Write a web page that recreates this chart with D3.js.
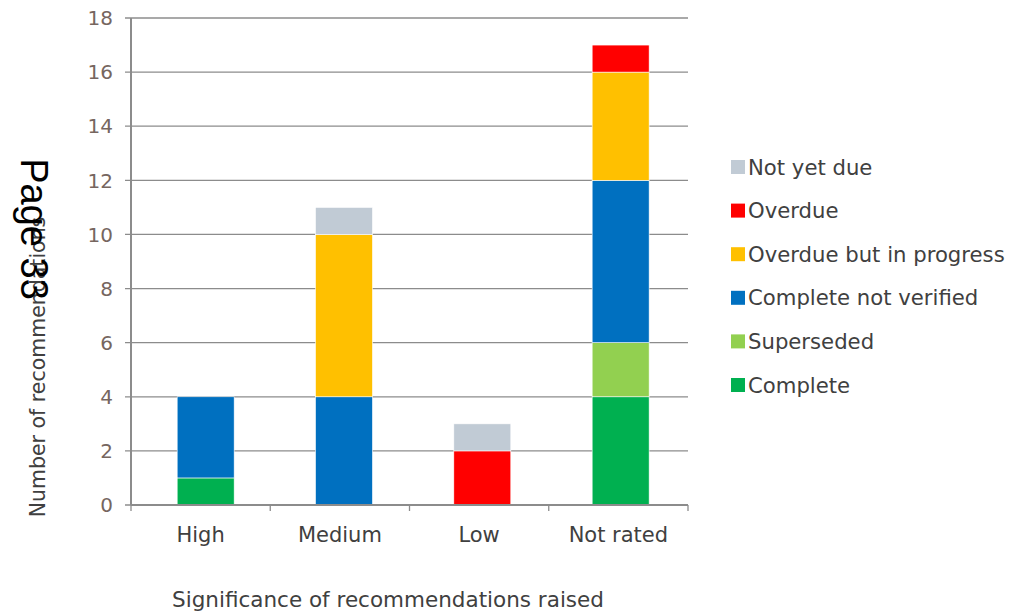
<!DOCTYPE html>
<html>
<head>
<meta charset="utf-8">
<script src="https://cdn.jsdelivr.net/npm/d3@7"></script>
<style>
  body { margin: 0; background: #fff; }
  svg { display: block; }
  text { font-family: "DejaVu Sans", sans-serif; }
</style>
</head>
<body>
<svg id="chart" width="1009" height="613"></svg>
<script>
// Recommendation status by significance rating
const categories = ["High", "Medium", "Low", "Not rated"];
const seriesNames = ["Complete", "Superseded", "Complete not verified", "Overdue but in progress", "Overdue", "Not yet due"];
const seriesColors = ["#00B050", "#92D050", "#0070C0", "#FFC000", "#FF0000", "#C1CBD5"];
const complete            = [1, 0, 0, 4];
const superseded          = [0, 0, 0, 2];
const completeNotVerified = [3, 4, 0, 6];
const overdueInProgress   = [0, 6, 0, 4];
const overdue             = [0, 0, 2, 1];
const notYetDue           = [0, 1, 1, 0];
const yTicks = [0, 2, 4, 6, 8, 10, 12, 14, 16, 18];

const seriesValues = [complete, superseded, completeNotVerified, overdueInProgress, overdue, notYetDue];
const rows = categories.map((c, i) => {
  const r = { category: c };
  seriesNames.forEach((s, k) => { r[s] = seriesValues[k][i]; });
  return r;
});

const svg = d3.select("#chart");
const plotLeft = 131, plotRight = 688, plotTop = 18, plotBottom = 505;

// category slots along the axis (tick marks and labels)
const xAxisScale = d3.scaleBand().domain(categories).range([plotLeft, plotRight]).padding(0);
// bar placement
const x = d3.scaleBand().domain(categories).range([136.5, 689.8]).paddingInner(0.588).paddingOuter(0.294);
const y = d3.scaleLinear().domain([0, 18]).range([plotBottom, plotTop]);

// horizontal gridlines with short left ticks
svg.append("g").selectAll("line").data(yTicks).join("line")
  .attr("x1", plotLeft - 6).attr("x2", plotRight)
  .attr("y1", d => y(d)).attr("y2", d => y(d))
  .attr("stroke", "#8C8C8C").attr("stroke-width", 1.3);

// tick labels
svg.append("g").selectAll("text").data(yTicks).join("text")
  .attr("x", plotLeft - 18).attr("y", d => y(d)).attr("dy", "0.36em")
  .attr("text-anchor", "end").attr("font-size", 20).attr("fill", "#76665F")
  .text(d => d);

// stacked bars
const stack = d3.stack().keys(seriesNames)(rows);
svg.append("g").selectAll("g").data(stack).join("g")
  .attr("fill", (d, i) => seriesColors[i])
  .selectAll("rect").data(d => d.filter(p => p[1] > p[0])).join("rect")
  .attr("x", d => x(d.data.category))
  .attr("width", x.bandwidth())
  .attr("y", d => y(d[1]))
  .attr("height", d => y(d[0]) - y(d[1]))
  .attr("stroke", "#fff").attr("stroke-width", 0.6);

// y axis line
svg.append("line")
  .attr("x1", plotLeft).attr("x2", plotLeft)
  .attr("y1", y(18)).attr("y2", y(0))
  .attr("stroke", "#8C8C8C").attr("stroke-width", 2);

// x axis with category ticks
const xAxisG = svg.append("g");
xAxisG.append("line")
  .attr("x1", plotLeft).attr("x2", plotRight)
  .attr("y1", y(0)).attr("y2", y(0))
  .attr("stroke", "#8C8C8C").attr("stroke-width", 2);
const bounds = categories.map(c => xAxisScale(c)).concat([plotRight]);
xAxisG.selectAll("line.tick").data(bounds).join("line").attr("class", "tick")
  .attr("x1", d => d).attr("x2", d => d)
  .attr("y1", y(0)).attr("y2", y(0) + 6)
  .attr("stroke", "#8C8C8C").attr("stroke-width", 1.3);
xAxisG.selectAll("text").data(categories).join("text")
  .attr("x", d => xAxisScale(d) + xAxisScale.bandwidth() / 2).attr("y", 542)
  .attr("text-anchor", "middle").attr("font-size", 21).attr("fill", "#404040")
  .text(d => d);

// axis titles
svg.append("text")
  .attr("x", 388).attr("y", 607)
  .attr("text-anchor", "middle").attr("font-size", 21.5).attr("fill", "#404040")
  .text("Significance of recommendations raised");
svg.append("text")
  .attr("transform", "translate(45,367) rotate(-90)")
  .attr("text-anchor", "middle").attr("font-size", 20.5).attr("fill", "#404040")
  .text("Number of recommendations");

// legend, top entry is the last series
const legendItems = seriesNames.map((s, i) => ({ name: s, color: seriesColors[i] })).reverse();
const lg = svg.append("g").selectAll("g").data(legendItems).join("g")
  .attr("transform", (d, i) => `translate(731,${167 + i * 43.6})`);
lg.append("rect").attr("x", 0).attr("y", -7).attr("width", 14).attr("height", 14).attr("fill", d => d.color);
lg.append("text").attr("x", 17).attr("y", 0).attr("dy", "0.36em")
  .attr("font-size", 21.2).attr("fill", "#404040").text(d => d.name);

// page number
svg.append("text")
  .attr("transform", "translate(21,229) rotate(90)")
  .attr("text-anchor", "middle")
  .style("font-family", "'Liberation Sans', Arial, sans-serif")
  .attr("font-size", 38).attr("fill", "#000")
  .text("Page 33");
</script>
</body>
</html>
